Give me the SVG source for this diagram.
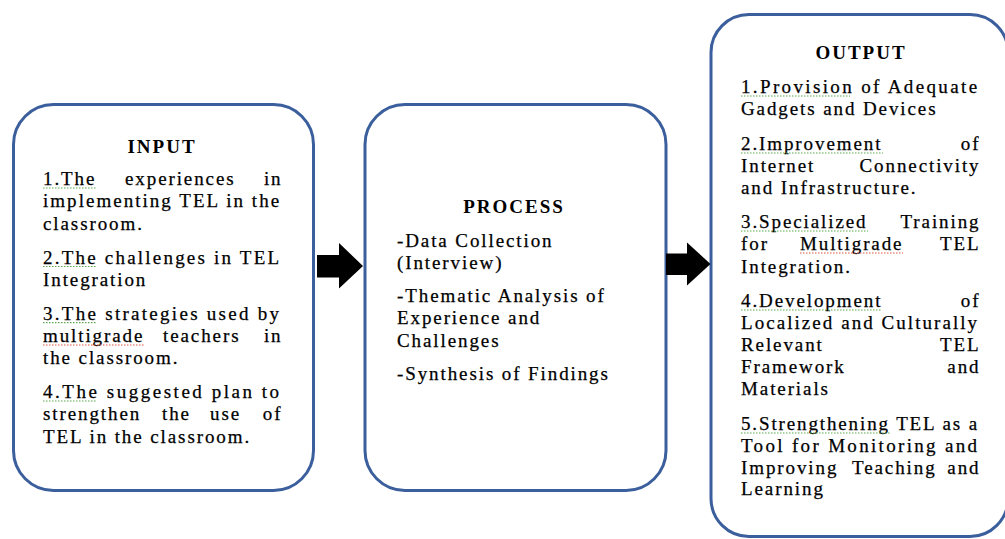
<svg xmlns="http://www.w3.org/2000/svg" width="1005" height="539" viewBox="0 0 1005 539">
  <style>
    .box { fill: #ffffff; stroke: #3B5E9C; stroke-width: 3; }
    .t { font-family: "Liberation Serif", "Times New Roman", serif; font-size: 19px; letter-spacing: 1.9px; fill: #000000; stroke: #000000; stroke-width: 0.25; }
    .h { font-family: "Liberation Serif", "Times New Roman", serif; font-size: 19px; font-weight: bold; letter-spacing: 2px; fill: #000000; text-anchor: middle; }
    .e { text-anchor: end; }
    .arrow { fill: #000000; }
    .sg { fill: none; stroke: #5DAA4E; stroke-width: 1.2; stroke-dasharray: 1.5 1.5; }
    .sr { fill: none; stroke: #E0533F; stroke-width: 1.2; stroke-dasharray: 1.5 1.5; }
  </style>
  <rect width="1005" height="539" fill="#ffffff"/>

  <g id="input">
    <rect class="box" x="13.5" y="104.5" width="300" height="386" rx="40" ry="40"/>
    <text class="h" x="162" y="152.5">INPUT</text>
    <text class="t" x="43" y="185">1.The</text>
    <text class="t" x="125" y="185">experiences</text>
    <text class="t e" x="282.5" y="185">in</text>
    <text class="t" x="43" y="207.3" textLength="238" lengthAdjust="spacing">implementing TEL in the</text>
    <text class="t" x="43" y="229.6">classroom.</text>
    <text class="t" x="43" y="263.5" textLength="238" lengthAdjust="spacing">2.The challenges in TEL</text>
    <text class="t" x="43" y="285.8">Integration</text>
    <text class="t" x="43" y="319.6" textLength="238" lengthAdjust="spacing">3.The strategies used by</text>
    <text class="t" x="43" y="341.9">multigrade</text>
    <text class="t" x="163" y="341.9">teachers</text>
    <text class="t e" x="282.5" y="341.9">in</text>
    <text class="t" x="43" y="364.2">the classroom.</text>
    <text class="t" x="43" y="398" textLength="238" lengthAdjust="spacing">4.The suggested plan to</text>
    <text class="t" x="43" y="420.3">strengthen</text>
    <text class="t" x="162" y="420.3">the</text>
    <text class="t" x="210" y="420.3">use</text>
    <text class="t e" x="282.5" y="420.3">of</text>
    <text class="t" x="43" y="442.6">TEL in the classroom.</text>
  </g>

  <g id="process">
    <rect class="box" x="365" y="104.5" width="301" height="386" rx="40" ry="40"/>
    <text class="h" x="514" y="212.5">PROCESS</text>
    <text class="t" x="397" y="246.5">-Data Collection</text>
    <text class="t" x="397" y="268.8">(Interview)</text>
    <text class="t" x="397" y="302">-Thematic Analysis of</text>
    <text class="t" x="397" y="324.3">Experience and</text>
    <text class="t" x="397" y="346.6">Challenges</text>
    <text class="t" x="397" y="380">-Synthesis of Findings</text>
  </g>

  <g id="output">
    <rect class="box" x="711" y="14.5" width="297" height="522" rx="38" ry="38"/>
    <text class="h" x="861" y="58.5">OUTPUT</text>
    <text class="t" x="741" y="93" textLength="238" lengthAdjust="spacing">1.Provision of Adequate</text>
    <text class="t" x="741" y="115">Gadgets and Devices</text>
    <text class="t" x="741" y="150">2.Improvement</text>
    <text class="t e" x="980.5" y="150">of</text>
    <text class="t" x="741" y="172">Internet</text>
    <text class="t e" x="980.5" y="172">Connectivity</text>
    <text class="t" x="741" y="194">and Infrastructure.</text>
    <text class="t" x="741" y="228">3.Specialized</text>
    <text class="t e" x="980.5" y="228">Training</text>
    <text class="t" x="741" y="250">for</text>
    <text class="t" x="800" y="250">Multigrade</text>
    <text class="t e" x="980.5" y="250">TEL</text>
    <text class="t" x="741" y="272.5">Integration.</text>
    <text class="t" x="741" y="307">4.Development</text>
    <text class="t e" x="980.5" y="307">of</text>
    <text class="t" x="741" y="329" textLength="238" lengthAdjust="spacing">Localized and Culturally</text>
    <text class="t" x="741" y="351">Relevant</text>
    <text class="t e" x="980.5" y="351">TEL</text>
    <text class="t" x="741" y="373">Framework</text>
    <text class="t e" x="980.5" y="373">and</text>
    <text class="t" x="741" y="395">Materials</text>
    <text class="t" x="741" y="430" textLength="238" lengthAdjust="spacing">5.Strengthening TEL as a</text>
    <text class="t" x="741" y="452" textLength="238" lengthAdjust="spacing">Tool for Monitoring and</text>
    <text class="t" x="741" y="474">Improving</text>
    <text class="t" x="852" y="474">Teaching</text>
    <text class="t e" x="980.5" y="474">and</text>
    <text class="t" x="741" y="495">Learning</text>
  </g>

  <g id="spellcheck">
    <line class="sg" x1="43" y1="188" x2="96" y2="188"/>
    <line class="sg" x1="43" y1="266.5" x2="96" y2="266.5"/>
    <line class="sg" x1="43" y1="322.6" x2="96" y2="322.6"/>
    <line class="sr" x1="43" y1="345" x2="145" y2="345"/>
    <line class="sg" x1="43" y1="401" x2="96" y2="401"/>
    <line class="sg" x1="741" y1="96" x2="850" y2="96"/>
    <line class="sg" x1="741" y1="153" x2="883" y2="153"/>
    <line class="sg" x1="741" y1="231" x2="868" y2="231"/>
    <line class="sr" x1="800" y1="253" x2="903" y2="253"/>
    <line class="sg" x1="741" y1="310" x2="881" y2="310"/>
    <line class="sg" x1="741" y1="433" x2="890" y2="433"/>
  </g>

  <g id="connectors">
    <polygon class="arrow" points="317,255 339,255 339,243 363,266 339,288.5 339,277.5 317,277.5"/>
    <polygon class="arrow" points="666,253.5 687,253.5 687,242.5 710.5,264 687,285.5 687,275 666,275"/>
  </g>
</svg>
